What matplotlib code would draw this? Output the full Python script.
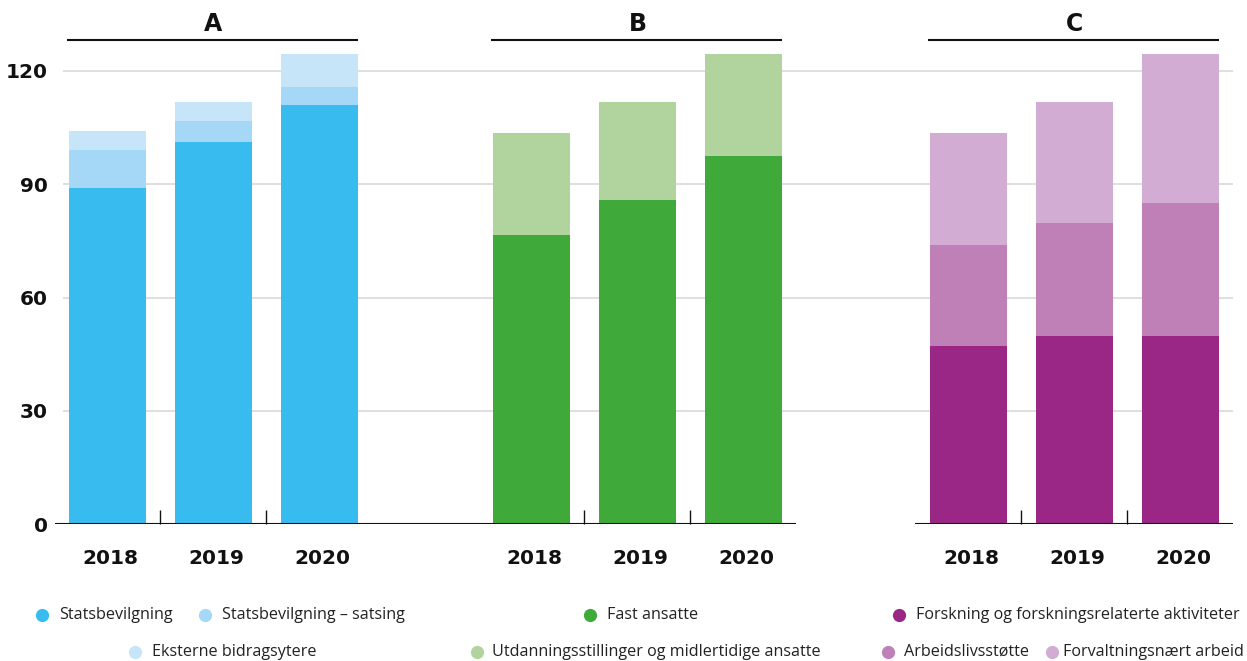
import numpy as np
import matplotlib
matplotlib.use('Agg')
import matplotlib.pyplot as plt

# data
years = ['2018', '2019', '2020']

# panel A
statsbevilgning = [89.0, 101.2, 111.0]
satsing = [10.1, 5.6, 4.8]
eksterne = [5.0, 5.0, 8.7]

# panel B
fast_ansatte = [76.6, 85.8, 97.5]
utdanning = [27.0, 26.0, 27.0]

# panel C
forskning = [47.2, 49.8, 49.8]
arbeidsliv = [26.7, 29.9, 35.2]
forvaltning = [29.7, 32.1, 39.5]

panels = ['A', 'B', 'C']
yticks = [0, 30, 60, 90, 120]

# colours
c_stat = '#38bcef'
c_sats = '#a4d8f6'
c_eks = '#c6e5f9'
c_fast = '#3fa93a'
c_utd = '#b1d39d'
c_fors = '#9a2686'
c_arb = '#be80b6'
c_forv = '#d2acd2'

W, H = 1247, 661
fig = plt.figure(figsize=(W / 100, H / 100), dpi=100)

# one axes, x positions for the three groups
x_a = np.array([0, 1, 2])
x_b = np.array([4, 5, 6])
x_c = np.array([8.12, 9.12, 10.12])
xl, xr = -0.495, 10.618
ymax = 130

ax_left = 55 / W
ax_w = (1233 - 55) / W
ax_bottom = 1 - 524 / H
ax_h = ymax * 3.775 / H
ax = fig.add_axes([ax_left, ax_bottom, ax_w, ax_h])

bw = 0.726

ax.hlines(yticks[1:], -0.42, xr, color='#dcdcdc', lw=1.3, zorder=0)

def stack(xs, series, colors):
    bottom = np.zeros(len(xs))
    for vals, col in zip(series, colors):
        ax.bar(xs, vals, bw, bottom=bottom, color=col, zorder=2)
        bottom = bottom + np.array(vals)

stack(x_a, [statsbevilgning, satsing, eksterne], [c_stat, c_sats, c_eks])
stack(x_b, [fast_ansatte, utdanning], [c_fast, c_utd])
stack(x_c, [forskning, arbeidsliv, forvaltning], [c_fors, c_arb, c_forv])

# baselines
ax.hlines(0, xl, 6.495, color='#111111', lw=1.5, zorder=3)
ax.hlines(0, 7.618, xr, color='#111111', lw=1.5, zorder=3)

ax.set_xlim(xl, xr)
ax.set_ylim(0, ymax)
for s in ax.spines.values():
    s.set_visible(False)

ax.set_yticks(yticks)
ax.set_yticklabels([str(v) for v in yticks], fontsize=14.5, fontweight='bold', color='#111111')
ax.tick_params(axis='y', length=0, pad=5)

xs_all = np.concatenate([x_a, x_b, x_c])
ax.set_xticks(xs_all + 0.03)
ax.set_xticklabels(years * 3, fontsize=14.5, fontweight='bold', color='#111111')
ax.tick_params(axis='x', which='major', length=0, pad=18)
seps = np.concatenate([x_a[:2] + 0.5, x_b[:2] + 0.5, x_c[:2] + 0.5])
ax.set_xticks(seps, minor=True)
ax.tick_params(axis='x', which='minor', direction='in', length=10, width=1, color='#111111')

# panel titles with rule
for name, xs in zip(panels, [x_a, x_b, x_c]):
    ax.hlines(128.2, xs[0] - bw / 2 - 0.02, xs[-1] + bw / 2, color='#111111', lw=1.5, clip_on=False)
    ax.text(xs[1], 132.5, name, ha='center', va='center', fontsize=17, fontweight='bold', color='#111111')

# legend drawn in pixel space
lg = fig.add_axes([0, 0, 1, 1])
lg.set_xlim(0, W)
lg.set_ylim(H, 0)
lg.axis('off')
lg.patch.set_alpha(0)

# (marker x, text x, y, colour, label)
legend_items = [
    (42, 59, 615, c_stat, 'Statsbevilgning'),
    (205, 222, 615, c_sats, 'Statsbevilgning – satsing'),
    (135, 152, 652, c_eks, 'Eksterne bidragsytere'),
    (590, 607, 615, c_fast, 'Fast ansatte'),
    (477, 492, 652, c_utd, 'Utdanningsstillinger og midlertidige ansatte'),
    (899, 916, 615, c_fors, 'Forskning og forskningsrelaterte aktiviteter'),
    (888, 904, 652, c_arb, 'Arbeidslivsstøtte'),
    (1052, 1063, 652, c_forv, 'Forvaltningsnært arbeid'),
]
for mx, tx, y, col, lab in legend_items:
    lg.plot(mx, y, 'o', color=col, markersize=9.5, mec='none')
    lg.text(tx, y, lab, ha='left', va='center', fontsize=11.6, color='#222222', family='Open Sans')

fig.savefig('out.png', dpi=100)
